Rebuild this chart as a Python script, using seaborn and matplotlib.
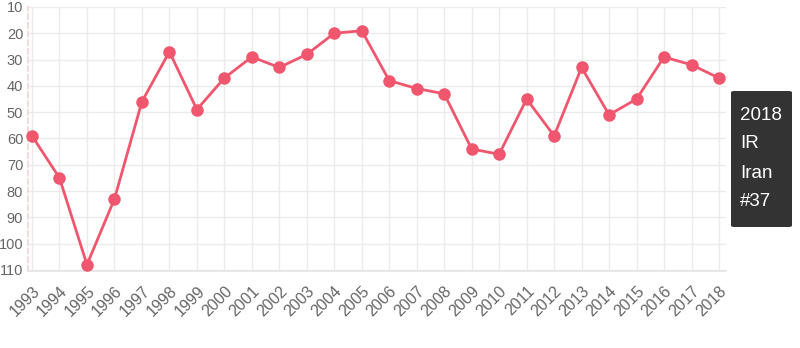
import matplotlib
matplotlib.use("Agg")
import matplotlib.pyplot as plt
import seaborn as sns
import pandas as pd
from matplotlib.patches import FancyBboxPatch

years = list(range(1993, 2019))
ranks = [59, 75, 108, 83, 46, 27, 49, 37, 29, 33, 28, 20, 19, 38, 41, 43,
         64, 66, 45, 59, 33, 51, 45, 29, 32, 37]
y_ticks = [10, 20, 30, 40, 50, 60, 70, 80, 90, 100, 110]
tooltip_lines = ["2018", "IR", "Iran", "#37"]

sns.set_theme(style="white")
plt.rcParams['font.family'] = ['Liberation Sans', 'DejaVu Sans']

df = pd.DataFrame({"year": years, "rank": ranks})

W, H = 800, 348
fig = plt.figure(figsize=(W / 100, H / 100), dpi=100)
left, right, top, bottom = 28, 726, 7, 271
ax = fig.add_axes([left / W, 1 - bottom / H, (right - left) / W, (bottom - top) / H])

line_color = "#f0566e"
sns.lineplot(data=df, x="year", y="rank", ax=ax, color=line_color, linewidth=2,
             marker="o", markersize=9, markeredgewidth=0, clip_on=False, zorder=4)

px_per_year = 27.5
ax.set_xlim(1993 - 4 / px_per_year, 2018 + 7 / px_per_year)
ax.set_ylim(110.4, 10)
ax.set_xticks(years)
ax.set_xticklabels([str(y) for y in years], rotation=45, ha="right",
                   rotation_mode="anchor", color="#666666", fontsize=11.5)
ax.set_yticks(y_ticks)
ax.set_yticklabels([str(v) for v in y_ticks], color="#666666", fontsize=10.5)
ax.tick_params(axis="both", which="both", length=3, width=1, color="#bbbbbb")
ax.tick_params(axis="y", pad=0.5)
ax.tick_params(axis="x", pad=6)
ax.grid(True, color="#ebebeb", linewidth=1)
ax.set_axisbelow(True)
ax.set_xlabel("")
ax.set_ylabel("")
for s in ["top", "right"]:
    ax.spines[s].set_visible(False)
ax.spines["left"].set_color("#f6d5da")
ax.spines["left"].set_linestyle((0, (3, 2)))
ax.spines["bottom"].set_color("#e6e6e6")

# tooltip
bx0, bx1, by0, by1 = 731, 792, 91, 227
box = FancyBboxPatch((bx0 / W, 1 - by1 / H), (bx1 - bx0) / W, (by1 - by0) / H,
                     boxstyle="round,pad=0,rounding_size=0.004",
                     transform=fig.transFigure, facecolor="#333333",
                     edgecolor="none", zorder=5)
fig.patches.append(box)
ys = [115, 144, 174, 202]
for t, yy in zip(tooltip_lines, ys):
    fig.text(740 / W, 1 - yy / H, t, color="white", fontsize=13.5,
             va="center", ha="left", zorder=6)

fig.savefig("out.png", dpi=100)
